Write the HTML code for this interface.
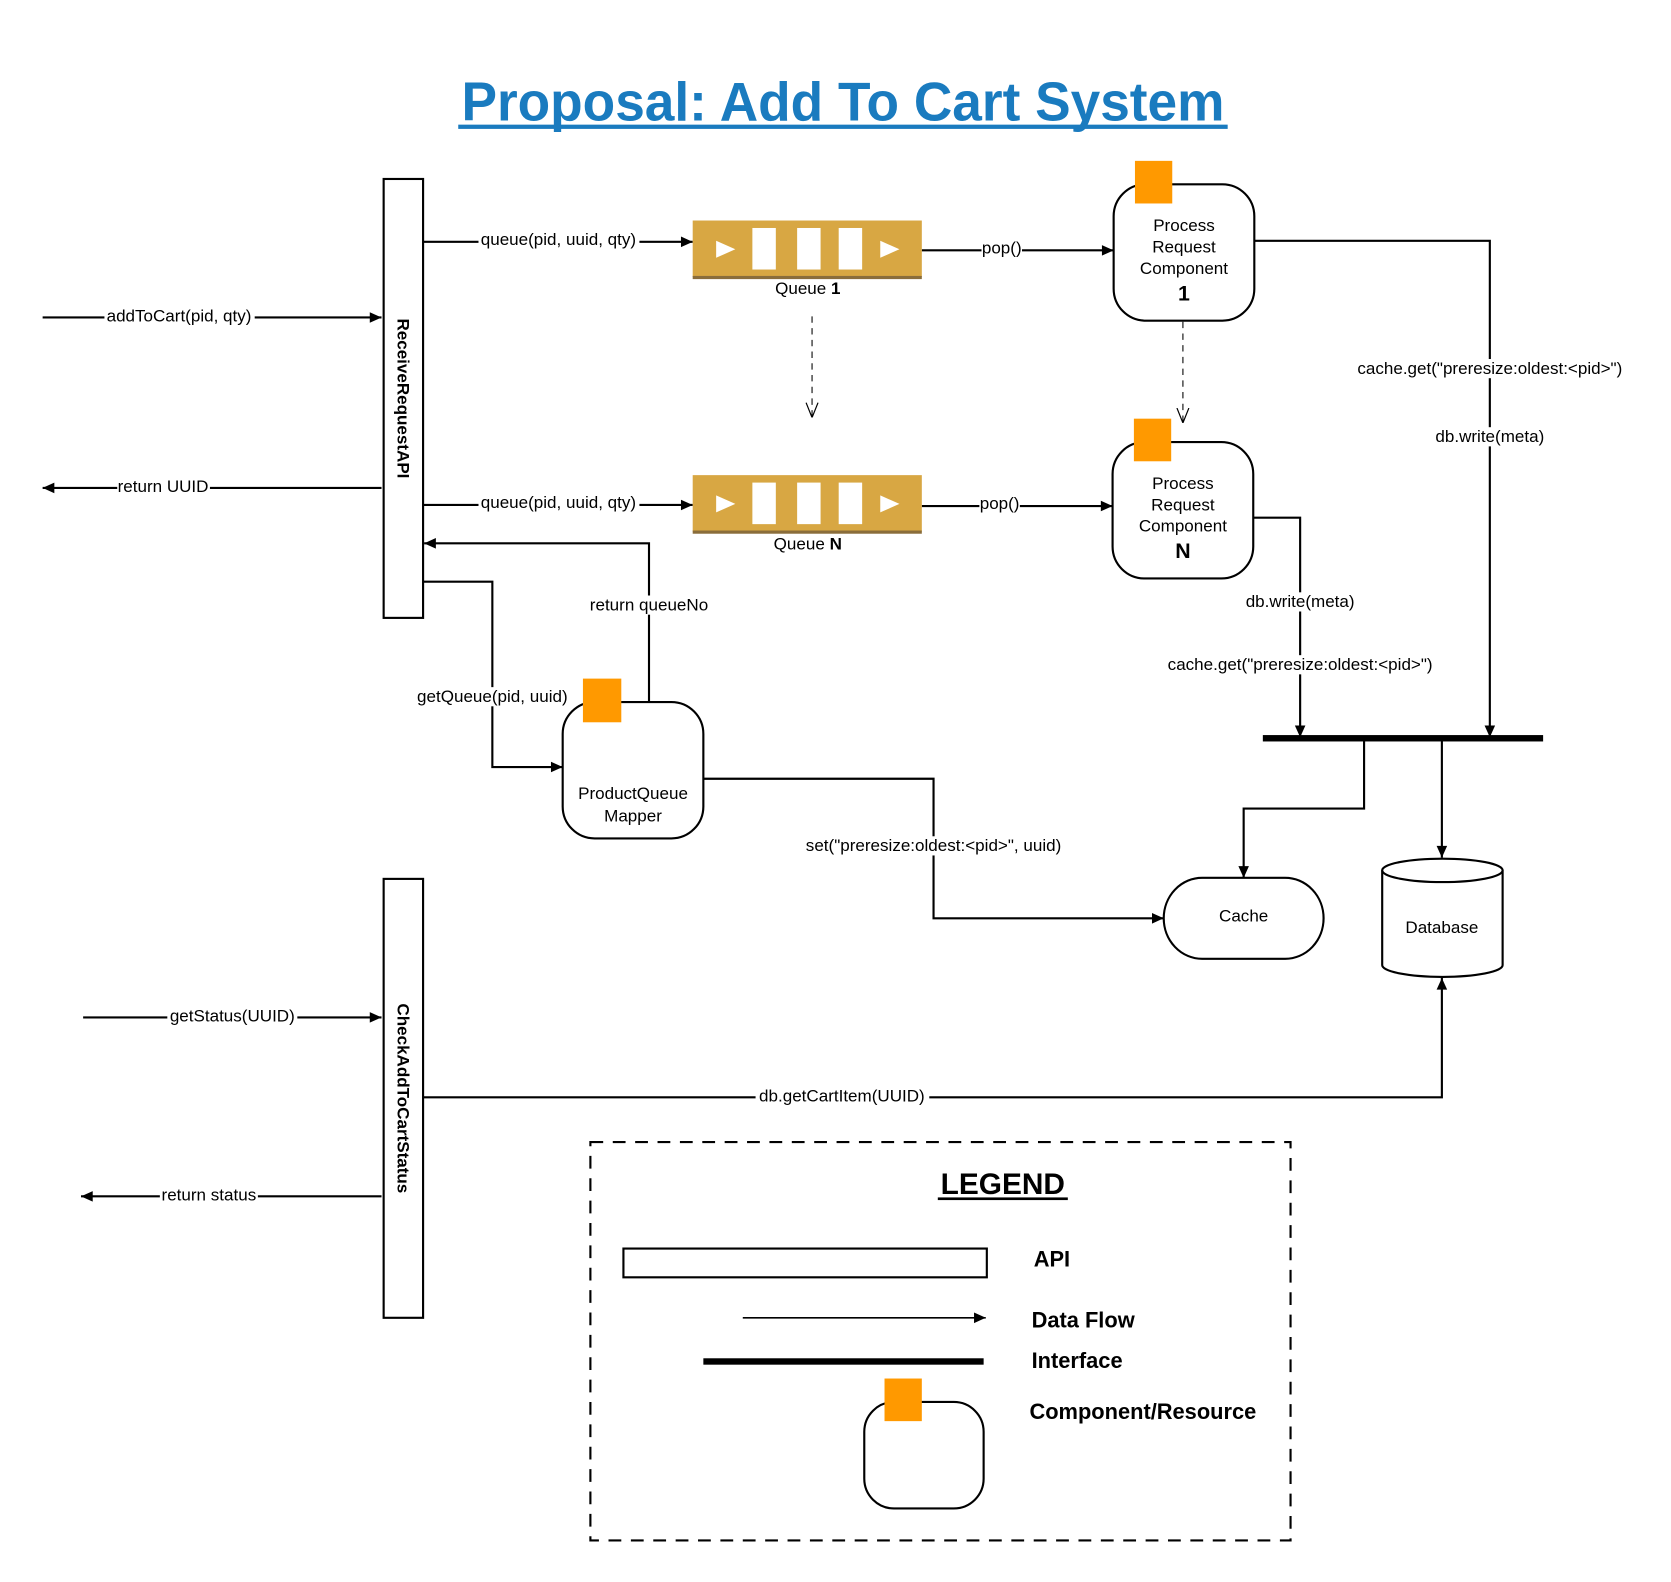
<!DOCTYPE html>
<html><head><meta charset="utf-8"><style>
html,body{margin:0;padding:0;background:#fff;}
svg{display:block;}
text{font-family:"Liberation Sans",Arial,sans-serif;fill:#000;}
</style></head><body>
<svg width="1671" height="1582" viewBox="0 0 1568 1485" preserveAspectRatio="none" xmlns="http://www.w3.org/2000/svg">
<defs>
<marker id="a" viewBox="0 0 10 10" refX="10" refY="5" markerWidth="13" markerHeight="11" orient="auto" markerUnits="userSpaceOnUse"><path d="M0,0.5 L10,5 L0,9.5 z" fill="#000"/></marker>
<marker id="o" viewBox="0 0 10 10" refX="10" refY="5" markerWidth="14" markerHeight="16" orient="auto" markerUnits="userSpaceOnUse"><path d="M0,1 L10,5 L0,9" fill="none" stroke="#000" stroke-width="0.8"/></marker>
</defs>
<rect width="1568" height="1485" fill="#fff"/>
<text x="791" y="113" font-size="51" font-weight="bold" text-anchor="middle" textLength="716" lengthAdjust="spacingAndGlyphs" style="fill:#1a7bbf">Proposal: Add To Cart System</text>
<rect x="430" y="117" width="722" height="4" fill="#1a7bbf"/>

<g stroke="#000" stroke-width="2" fill="none">
<rect x="360" y="168" width="37" height="412" fill="#fff"/>
<rect x="360" y="825" width="37" height="412" fill="#fff"/>
<line x1="40" y1="298" x2="358" y2="298" marker-end="url(#a)"/>
<line x1="358" y1="458" x2="40" y2="458" marker-end="url(#a)"/>
<line x1="78" y1="955" x2="358" y2="955" marker-end="url(#a)"/>
<line x1="358" y1="1123" x2="76" y2="1123" marker-end="url(#a)"/>
<line x1="397" y1="227" x2="650" y2="227" marker-end="url(#a)"/>
<line x1="397" y1="474" x2="650" y2="474" marker-end="url(#a)"/>
<line x1="865" y1="235" x2="1045" y2="235" marker-end="url(#a)"/>
<line x1="865" y1="475" x2="1044" y2="475" marker-end="url(#a)"/>
<line x1="762" y1="297" x2="762" y2="392" stroke-width="1" stroke-dasharray="6,5" marker-end="url(#o)"/>
<line x1="1110" y1="302" x2="1110" y2="397" stroke-width="1" stroke-dasharray="6,5" marker-end="url(#o)"/>
<polyline points="1176,226 1398,226 1398,692" marker-end="url(#a)"/>
<polyline points="1176,486 1220,486 1220,692" marker-end="url(#a)"/>
<polyline points="1280,693 1280,759 1167,759 1167,824" marker-end="url(#a)"/>
<line x1="1353" y1="693" x2="1353" y2="805" marker-end="url(#a)"/>
<polyline points="609,660 609,510 398,510" marker-end="url(#a)"/>
<polyline points="397,546 462,546 462,720 528,720" marker-end="url(#a)"/>
<polyline points="660,731 876,731 876,862 1092,862" marker-end="url(#a)"/>
<polyline points="397,1030 1353,1030 1353,918" marker-end="url(#a)"/>
<rect x="1045" y="173" width="132" height="128" rx="30" fill="#fff"/>
<rect x="1044" y="415" width="132" height="128" rx="30" fill="#fff"/>
<rect x="528" y="659" width="132" height="128" rx="30" fill="#fff"/>
<rect x="1092" y="824" width="150" height="76" rx="36" ry="38" fill="#fff"/>
<path d="M1297,817 L1297,906 A56.5,11 0 0 0 1410,906 L1410,817" fill="#fff"/>
<ellipse cx="1353.5" cy="817" rx="56.5" ry="11" fill="#fff"/>
</g>
<rect x="1185" y="690" width="263" height="6" fill="#000"/>
<rect x="1065" y="151" width="35" height="40" fill="#ff9900"/>
<rect x="1064" y="393" width="35" height="40" fill="#ff9900"/>
<rect x="547" y="637" width="36" height="41" fill="#ff9900"/>
<g>
<rect x="650" y="207" width="215" height="53" fill="#d8a743"/>
<rect x="650" y="259" width="215" height="3" fill="#8a6d3b"/>
<rect x="706" y="214" width="22" height="39" fill="#fff"/><rect x="748" y="214" width="22" height="39" fill="#fff"/><rect x="787" y="214" width="22" height="39" fill="#fff"/>
<path d="M672,226 L690,234 L672,242z M826,226 L844,234 L826,242z" fill="#fff"/>
<rect x="650" y="446" width="215" height="53" fill="#d8a743"/>
<rect x="650" y="498" width="215" height="3" fill="#8a6d3b"/>
<rect x="706" y="453" width="22" height="39" fill="#fff"/><rect x="748" y="453" width="22" height="39" fill="#fff"/><rect x="787" y="453" width="22" height="39" fill="#fff"/>
<path d="M672,465 L690,473 L672,481z M826,465 L844,473 L826,481z" fill="#fff"/>
</g>
<g font-size="16" text-anchor="middle">
<rect x="98" y="288" width="141" height="18" fill="#fff"/><text x="168" y="302">addToCart(pid, qty)</text>
<rect x="110" y="448" width="87" height="18" fill="#fff"/><text x="153" y="462">return UUID</text>
<rect x="449" y="216" width="151" height="18" fill="#fff"/><text x="524" y="230">queue(pid, uuid, qty)</text>
<rect x="449" y="463" width="151" height="18" fill="#fff"/><text x="524" y="477">queue(pid, uuid, qty)</text>
<rect x="921" y="224" width="38" height="18" fill="#fff"/><text x="940" y="238">pop()</text>
<rect x="919" y="464" width="38" height="18" fill="#fff"/><text x="938" y="478">pop()</text>
<text x="758" y="276">Queue <tspan font-weight="bold">1</tspan></text>
<text x="758" y="516">Queue <tspan font-weight="bold">N</tspan></text>
<text x="1111" y="217">Process</text><text x="1111" y="237">Request</text><text x="1111" y="257">Component</text>
<text x="1111" y="282" font-size="20" font-weight="bold">1</text>
<text x="1110" y="459">Process</text><text x="1110" y="479">Request</text><text x="1110" y="499">Component</text>
<text x="1110" y="524" font-size="20" font-weight="bold">N</text>
<text x="594" y="750">ProductQueue</text><text x="594" y="771">Mapper</text>
<text x="1167" y="865">Cache</text>
<text x="1353" y="876">Database</text>
<rect x="1268" y="337" width="260" height="18" fill="#fff"/><text x="1398" y="351">cache.get("preresize:oldest:&lt;pid&gt;")</text>
<rect x="1345" y="401" width="106" height="18" fill="#fff"/><text x="1398" y="415">db.write(meta)</text>
<rect x="1167" y="556" width="106" height="18" fill="#fff"/><text x="1220" y="570">db.write(meta)</text>
<rect x="1090" y="615" width="260" height="18" fill="#fff"/><text x="1220" y="629">cache.get("preresize:oldest:&lt;pid&gt;")</text>
<rect x="551" y="559" width="116" height="18" fill="#fff"/><text x="609" y="573">return queueNo</text>
<rect x="389" y="645" width="147" height="18" fill="#fff"/><text x="462" y="659">getQueue(pid, uuid)</text>
<rect x="751" y="785" width="251" height="18" fill="#fff"/><text x="876" y="799">set("preresize:oldest:&lt;pid&gt;", uuid)</text>
<rect x="157" y="945" width="122" height="18" fill="#fff"/><text x="218" y="959">getStatus(UUID)</text>
<rect x="150" y="1113" width="92" height="18" fill="#fff"/><text x="196" y="1127">return status</text>
<rect x="709" y="1020" width="163" height="18" fill="#fff"/><text x="790" y="1034">db.getCartItem(UUID)</text>
</g>
<text transform="translate(373,374) rotate(90)" font-size="16" font-weight="bold" text-anchor="middle">ReceiveRequestAPI</text>
<text transform="translate(373,1031) rotate(90)" font-size="16" font-weight="bold" text-anchor="middle">CheckAddToCartStatus</text>
<rect x="554" y="1072" width="657" height="374" fill="none" stroke="#000" stroke-width="2" stroke-dasharray="12,9"/>
<text x="941" y="1121" font-size="28" font-weight="bold" text-anchor="middle">LEGEND</text>
<rect x="880" y="1124" width="122" height="2.5" fill="#000"/>
<rect x="585" y="1172" width="341" height="27" fill="#fff" stroke="#000" stroke-width="2"/>
<line x1="697" y1="1237" x2="925" y2="1237" stroke="#000" stroke-width="1.5" marker-end="url(#a)"/>
<rect x="660" y="1275" width="263" height="6" fill="#000"/>
<rect x="811" y="1316" width="112" height="100" rx="28" fill="#fff" stroke="#000" stroke-width="2"/>
<rect x="830" y="1294" width="35" height="40" fill="#ff9900"/>
<g font-size="20.5" font-weight="bold">
<text x="970" y="1189">API</text>
<text x="968" y="1246">Data Flow</text>
<text x="968" y="1284">Interface</text>
<text x="966" y="1332">Component/Resource</text>
</g>
</svg>
</body></html>
